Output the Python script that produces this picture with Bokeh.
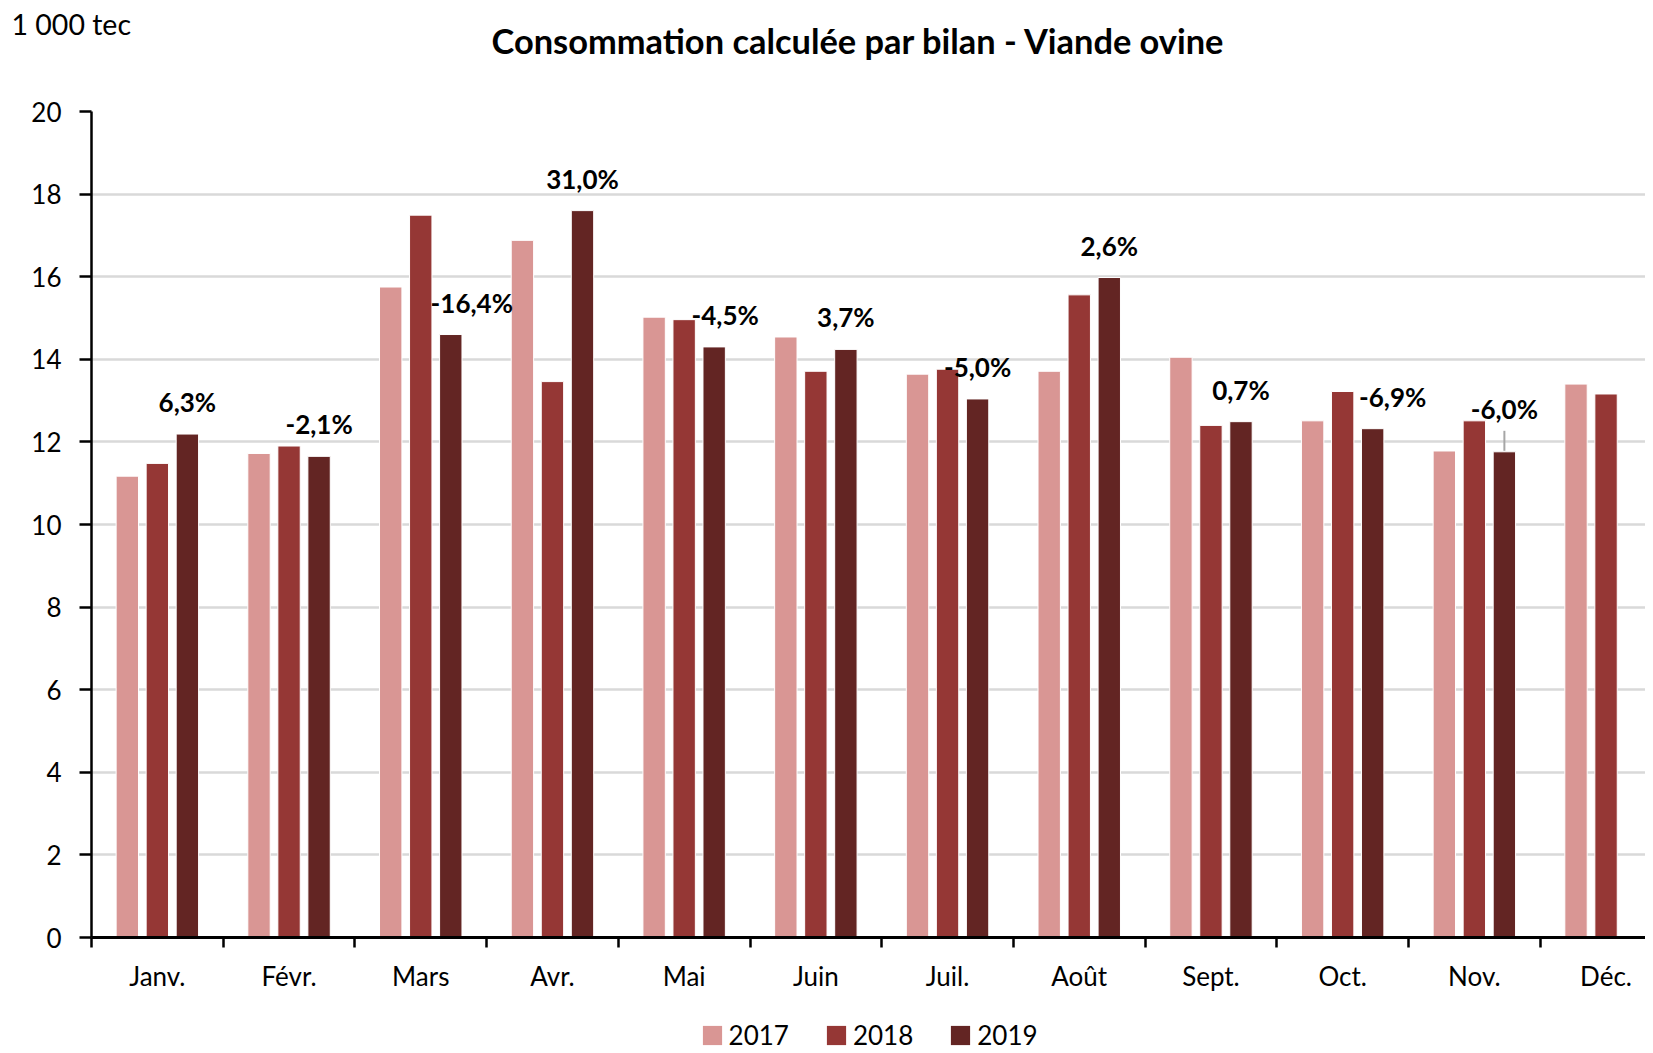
from bokeh.plotting import figure
from bokeh.layouts import column
from bokeh.models import (ColumnDataSource, Range1d, FixedTicker,
                          CustomJSTickFormatter, Legend, LegendItem)
from bokeh.transform import dodge
from bokeh.core.properties import value
from bokeh.embed import file_html
from bokeh.resources import INLINE

# ---------------- data ----------------
months = ["Janv.", "Févr.", "Mars", "Avr.", "Mai", "Juin", "Juil.", "Août",
          "Sept.", "Oct.", "Nov.", "Déc."]
v2017 = [11.17, 11.72, 15.75, 16.88, 15.02, 14.54, 13.64, 13.71, 14.05, 12.51, 11.78, 13.40]
v2018 = [11.48, 11.90, 17.49, 13.46, 14.96, 13.71, 13.76, 15.56, 12.40, 13.22, 12.51, 13.16]
v2019 = [12.19, 11.65, 14.60, 17.60, 14.30, 14.24, 13.04, 15.98, 12.49, 12.32, 11.76]
pct_labels = ["6,3%", "-2,1%", "-16,4%", "31,0%", "-4,5%", "3,7%", "-5,0%",
              "2,6%", "0,7%", "-6,9%", "-6,0%"]
years = ["2017", "2018", "2019"]
y_ticks = list(range(0, 21, 2))
title_text = "Consommation calculée par bilan - Viande ovine"
unit_text = "1 000 tec"

# ---------------- style ----------------
colors = ["#D99694", "#953735", "#632523"]
FONT = "Lato"
label_dx = [0, 0, 21, 0, 11, 0, 0, 0, 0, 20, 0]      # pixel nudges of the % labels
label_dy = [0, 0, 0, 0, 0, 0, 0, 0, 0, 0, -11]
BAR_W = 0.17
GAP = 0.228

W = 1645
H_TOP, H_MAIN, H_LEG = 70, 930, 51
LEFT, TOP, BOTTOM = 91, 41, 63
CAT_PX = 131.7

# ---------------- header (unit + title) ----------------
top = figure(width=W, height=H_TOP, output_backend="svg", toolbar_location=None,
             x_range=Range1d(0, W), y_range=Range1d(H_TOP, 0),
             x_axis_location=None, y_axis_location=None, frame_align=False,
             min_border=0, background_fill_color="white", border_fill_color="white")
top.outline_line_color = None
top.grid.visible = False
top.text(x=[11], y=[6], text=[unit_text], text_font=value(FONT), text_font_size="28.5px",
         text_align="left", text_baseline="top", text_color="black")
top.text(x=[858], y=[39.5], text=[title_text], text_font=value(FONT),
         text_font_style="bold", text_font_size="34.4px",
         text_align="center", text_baseline="alphabetic", text_color="black")

# ---------------- main chart ----------------
x_center = [i + 0.5 for i in range(len(months))]
src17 = ColumnDataSource(dict(x=x_center, top=v2017))
src18 = ColumnDataSource(dict(x=x_center, top=v2018))
src19 = ColumnDataSource(dict(x=x_center[:len(v2019)], top=v2019))
sources = [src17, src18, src19]

x_end = (W - LEFT) / CAT_PX

p = figure(width=W, height=H_MAIN, output_backend="svg", toolbar_location=None,
           x_range=Range1d(0, x_end), y_range=Range1d(0, 20), frame_align=False,
           min_border_left=LEFT, min_border_right=0, min_border_top=TOP,
           min_border_bottom=BOTTOM,
           background_fill_color="white", border_fill_color="white")
p.outline_line_color = None

bar_kw = dict(top="top", width=BAR_W, line_color="white", line_width=1)
for src, col, shift in zip(sources, colors, [-GAP, 0, GAP]):
    p.vbar(x=dodge("x", shift, range=p.x_range), source=src, fill_color=col, **bar_kw)

# % labels above the 2019 bars
lab_src = ColumnDataSource(dict(
    x=[x + GAP for x in x_center[:len(v2019)]], y=v2019, text=pct_labels,
    dx=label_dx, dy=[d - 32 for d in label_dy]))
p.text(x="x", y="y", text="text", x_offset="dx", y_offset="dy", source=lab_src,
       text_font=value(FONT), text_font_style="bold", text_font_size="26px",
       text_align="center", text_baseline="middle", text_color="black")

# leader line for the November label
nov = 10
p.segment(x0=[x_center[nov] + GAP], x1=[x_center[nov] + GAP],
          y0=[v2019[nov] + 1 / 41.3], y1=[v2019[nov] + 21 / 41.3],
          line_color="#A6A6A6", line_width=2)

xa = p.xaxis[0]
xa.ticker = FixedTicker(ticks=x_center, minor_ticks=list(range(len(months) + 1)))
xa.formatter = CustomJSTickFormatter(args=dict(labels=months),
                                     code="return labels[Math.floor(tick)] || '';")
xa.major_tick_line_color = None
xa.minor_tick_line_color = "black"
xa.minor_tick_line_width = 2.5
xa.minor_tick_in = 0
xa.minor_tick_out = 10
xa.axis_line_color = "black"
xa.axis_line_width = 3
xa.major_label_text_font = FONT
xa.major_label_text_font_size = "26px"
xa.major_label_text_color = "black"
xa.major_label_standoff = 12

ya = p.yaxis[0]
ya.ticker = FixedTicker(ticks=y_ticks)
ya.major_tick_line_color = "black"
ya.major_tick_line_width = 2.5
ya.major_tick_in = 0
ya.major_tick_out = 12
ya.minor_tick_line_color = None
ya.axis_line_color = "black"
ya.axis_line_width = 2.5
ya.major_label_text_font = FONT
ya.major_label_text_font_size = "26px"
ya.major_label_text_color = "black"
ya.major_label_standoff = 18

p.xgrid.grid_line_color = None
p.ygrid.grid_line_color = "#D9D9D9"
p.ygrid.grid_line_width = 2.5

# ---------------- legend strip ----------------
# same series as zero-height bars outside the visible ranges: only the legend shows
lg = figure(width=W, height=H_LEG, output_backend="svg", toolbar_location=None,
            x_range=Range1d(100, 101), y_range=Range1d(100, 101), frame_align=False,
            x_axis_location=None, y_axis_location=None,
            min_border=0, background_fill_color="white", border_fill_color="white")
lg.outline_line_color = None
lg.grid.visible = False
items = []
for yr, src, col in zip(years, sources, colors):
    r = lg.vbar(x="x", top=0, bottom=0, width=BAR_W, source=src,
                fill_color=col, line_color=None)
    items.append(LegendItem(label=yr, renderers=[r]))
legend = Legend(items=items, orientation="horizontal", location=(699.6, 0),
                glyph_width=24, glyph_height=24, label_standoff=5, spacing=35,
                padding=0, margin=0, border_line_color=None,
                background_fill_alpha=0,
                label_text_font=FONT, label_text_font_size="26px",
                label_text_color="black")
lg.add_layout(legend, "center")

layout = column(top, p, lg, spacing=0)
open("out.html", "w").write(file_html(layout, INLINE))
